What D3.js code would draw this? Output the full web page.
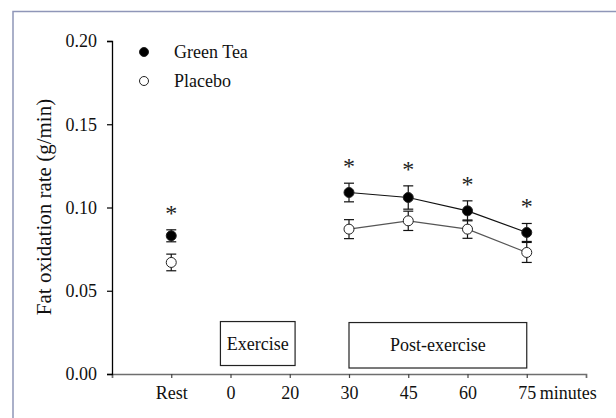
<!DOCTYPE html>
<html><head><meta charset="utf-8"><script src="https://cdn.jsdelivr.net/npm/d3@7"></script></head>
<body style="margin:0">
<svg id="s" width="616" height="418" font-family="Liberation Serif"></svg>
<script>
// Time points on the x axis (index 1..7 on the axis)
const categories = ["Rest", "0", "20", "30", "45", "60", "75"];
// Measured time points (positions in the categories list)
const measured = ["Rest", "30", "45", "60", "75"];

// Fat oxidation rate (g/min), mean and SE
const greenTea    = [0.083, 0.109, 0.106, 0.098, 0.085];
const greenTeaErr = [0.0036, 0.0056, 0.0070, 0.0060, 0.0054];
const placebo     = [0.067, 0.087, 0.092, 0.087, 0.073];
const placeboErr  = [0.0050, 0.0057, 0.0058, 0.0055, 0.0060];
// Significant difference marker at each measured time point
const significant = [true, true, true, true, true];

const yTicks = [0, 0.05, 0.10, 0.15, 0.20];

// Phase boxes (x in axis index units, y in g/min)
const phases = [
  { label: "Exercise",      x0: 1.83, x1: 3.09, y0: 0.0051, y1: 0.0315 },
  { label: "Post-exercise", x0: 4.00, x1: 7.00, y0: 0.0036, y1: 0.0309 }
];

const SERIF = "Liberation Serif";
const FONT = 18;
const svg = d3.select("#s");

// Outer frame
svg.append("rect")
  .attr("x", 13).attr("y", 11.5)
  .attr("width", 640).attr("height", 440)
  .attr("fill", "none")
  .attr("stroke", "#8f96b8")
  .attr("stroke-width", 1.5);

const x = d3.scaleLinear().domain([0, 8]).range([112, 586]);
const y = d3.scaleLinear().domain([0, 0.20]).range([374, 41]);
const xPos = c => x(categories.indexOf(c) + 1);

// Adds a serif label
function label(sel, size) {
  return sel.style("font-family", SERIF).attr("font-size", size).attr("fill", "#111");
}

// Phase boxes
phases.forEach(p => {
  svg.append("rect")
    .attr("x", x(p.x0)).attr("y", y(p.y1))
    .attr("width", x(p.x1) - x(p.x0))
    .attr("height", y(p.y0) - y(p.y1))
    .attr("fill", "#fff")
    .attr("stroke", "#222")
    .attr("stroke-width", 1.2);
  label(svg.append("text"), FONT)
    .attr("x", (x(p.x0) + x(p.x1)) / 2)
    .attr("y", (y(p.y0) + y(p.y1)) / 2 + 6)
    .attr("text-anchor", "middle")
    .text(p.label);
});

// X axis
const xAxis = d3.axisBottom(x)
  .tickValues(d3.range(1, categories.length + 1))
  .tickFormat(i => categories[i - 1])
  .tickSizeInner(4)
  .tickSizeOuter(4);
const gx = svg.append("g").attr("transform", "translate(0,374)").call(xAxis)
  .attr("font-family", SERIF).attr("font-size", FONT);
gx.select(".domain").attr("stroke", "#6e6e6e").attr("stroke-width", 1.7);
gx.selectAll(".tick line").attr("stroke", "#444").attr("stroke-width", 1.2);
label(gx.selectAll(".tick text"), FONT).attr("y", 25).attr("dy", 0);
label(svg.append("text"), FONT)
  .attr("x", x(7) + 13).attr("y", 399)
  .text("minutes");

// Y axis
const yAxis = d3.axisLeft(y)
  .tickValues(yTicks)
  .tickFormat(d3.format(".2f"))
  .tickSizeInner(5)
  .tickSizeOuter(5);
const gy = svg.append("g").attr("transform", "translate(112,0)").call(yAxis)
  .attr("font-family", SERIF).attr("font-size", FONT);
gy.select(".domain").attr("stroke", "#000").attr("stroke-width", 1.3);
gy.selectAll(".tick line").attr("stroke", "#000").attr("stroke-width", 1.2);
label(gy.selectAll(".tick text"), FONT).attr("x", -15);

// Y axis title
label(svg.append("text"), 21)
  .attr("transform", "translate(51,207) rotate(-90)")
  .attr("text-anchor", "middle")
  .text("Fat oxidation rate (g/min)");

// Draws one series: connecting line (post-exercise points), error bars, markers
function drawSeries(values, errs, fill, lineColor) {
  const pts = measured.map((c, i) => ({ x: xPos(c), v: values[i], e: errs[i] }));
  const line = d3.line().x(d => d.x).y(d => y(d.v));
  svg.append("path")
    .datum(pts.slice(1))
    .attr("d", line)
    .attr("fill", "none")
    .attr("stroke", lineColor)
    .attr("stroke-width", 1.2);
  const g = svg.append("g");
  pts.forEach(d => {
    const top = y(d.v + d.e), bot = y(d.v - d.e);
    g.append("line").attr("x1", d.x).attr("x2", d.x).attr("y1", top).attr("y2", bot)
      .attr("stroke", "#111").attr("stroke-width", 1.2);
    [top, bot].forEach(yy => g.append("line")
      .attr("x1", d.x - 5).attr("x2", d.x + 5).attr("y1", yy).attr("y2", yy)
      .attr("stroke", "#111").attr("stroke-width", 1.2));
  });
  pts.forEach(d => {
    g.append("circle")
      .attr("cx", d.x).attr("cy", y(d.v)).attr("r", 5)
      .attr("fill", fill)
      .attr("stroke", "#222").attr("stroke-width", 1);
  });
}

drawSeries(placebo, placeboErr, "#fff", "#555");
drawSeries(greenTea, greenTeaErr, "#000", "#111");

// Significance asterisks above the green tea error bars
measured.forEach((c, i) => {
  if (!significant[i]) return;
  label(svg.append("text"), 24)
    .attr("x", xPos(c))
    .attr("y", y(greenTea[i] + greenTeaErr[i]) - 9)
    .attr("text-anchor", "middle")
    .attr("fill", "#222")
    .text("*");
});

// Legend
const legend = [
  { label: "Green Tea", fill: "#000", cy: 52 },
  { label: "Placebo",   fill: "#fff", cy: 81 }
];
legend.forEach(l => {
  svg.append("circle")
    .attr("cx", 144).attr("cy", l.cy).attr("r", 4.5)
    .attr("fill", l.fill).attr("stroke", "#222").attr("stroke-width", 1);
  label(svg.append("text"), FONT)
    .attr("x", 174).attr("y", l.cy + 6)
    .text(l.label);
});
</script>
</body>
</html>
